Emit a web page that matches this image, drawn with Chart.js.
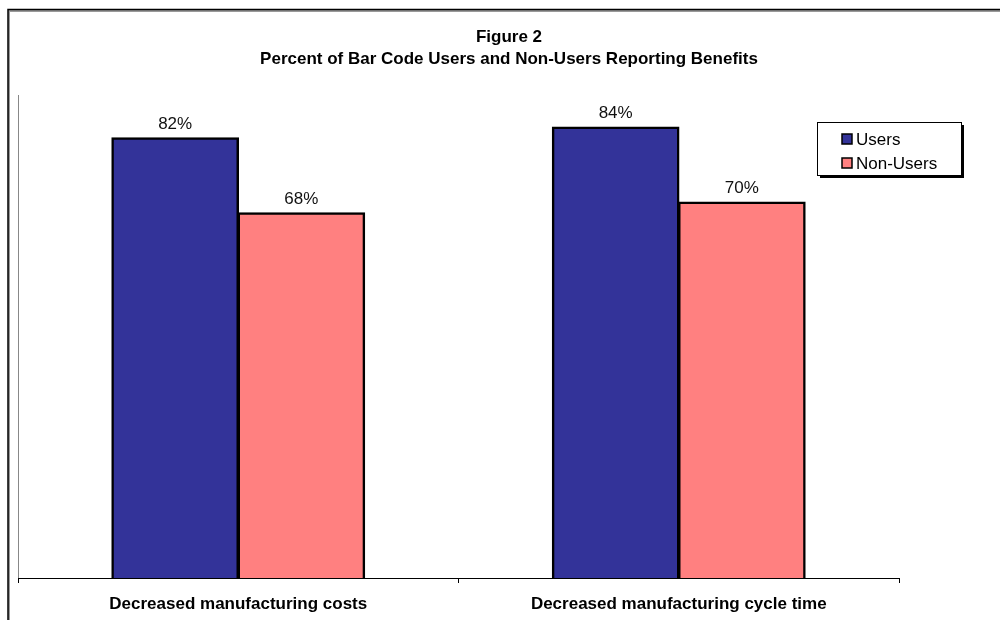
<!DOCTYPE html>
<html>
<head>
<meta charset="utf-8">
<script src="https://cdn.jsdelivr.net/npm/chart.js@4/dist/chart.umd.min.js"></script>
<style>
  body { margin: 0; background: #fff; }
  canvas { display: block; }
</style>
</head>
<body>
<canvas id="chart" width="1000" height="620"></canvas>
<script>
// values
const categories = ["Decreased manufacturing costs", "Decreased manufacturing cycle time"];
const seriesNames = ["Users", "Non-Users"];
const usersValues = [82, 84];
const nonUsersValues = [68, 70];
const seriesColors = ["#333399", "#FF8080"];
const titleLines = ["Figure 2", "Percent of Bar Code Users and Non-Users Reporting Benefits"];

const FONT = "'Liberation Sans', Arial, sans-serif";

// outer frame, title, data labels and the boxed legend
const decorations = {
    id: "decorations",
    beforeDraw(chart){
        const ctx = chart.ctx;
        ctx.save();
        ctx.fillStyle = "#fff";
        ctx.fillRect(0, 0, chart.width, chart.height);
        ctx.strokeStyle = "#999";
        ctx.lineWidth = 2;
        ctx.beginPath();
        ctx.moveTo(9, chart.height + 5);
        ctx.lineTo(9, 11);
        ctx.lineTo(chart.width + 5, 11);
        ctx.stroke();
        ctx.strokeStyle = "#000";
        ctx.lineWidth = 1.5;
        ctx.beginPath();
        ctx.moveTo(8, chart.height + 5);
        ctx.lineTo(8, 9.5);
        ctx.lineTo(chart.width + 5, 9.5);
        ctx.stroke();
        ctx.restore();
    },
    afterDraw(chart){
        const ctx = chart.ctx;
        ctx.save();
        // title
        ctx.fillStyle = "#000";
        ctx.textAlign = "center";
        ctx.textBaseline = "middle";
        ctx.font = "bold 17px " + FONT;
        ctx.fillText(titleLines[0], 509, 37);
        ctx.fillText(titleLines[1], 509, 59);
        // value labels
        ctx.font = "17px " + FONT;
        ctx.fillStyle = "#111";
        ctx.textBaseline = "alphabetic";
        chart.data.datasets.forEach((ds, i) => {
            chart.getDatasetMeta(i).data.forEach((bar, j) => {
                ctx.fillText(ds.data[j] + "%", bar.x, bar.y - 9);
            });
        });
        // legend box with shadow
        const lx = 817, ly = 122, lw = 144, lh = 53;
        ctx.fillStyle = "#000";
        ctx.fillRect(lx + 3, ly + 3, lw, lh);
        ctx.fillStyle = "#fff";
        ctx.fillRect(lx, ly, lw, lh);
        ctx.strokeStyle = "#000";
        ctx.lineWidth = 1;
        ctx.strokeRect(lx + 0.5, ly + 0.5, lw, lh);
        ctx.font = "17px " + FONT;
        ctx.textAlign = "left";
        ctx.textBaseline = "middle";
        chart.data.datasets.forEach((ds, i) => {
            const y = 139 + i * 24;
            ctx.fillStyle = ds.backgroundColor;
            ctx.fillRect(842, y - 5, 10, 10);
            ctx.lineWidth = 1.5;
            ctx.strokeRect(842, y - 5, 10, 10);
            ctx.fillStyle = "#000";
            ctx.fillText(ds.label, 856, y + 1);
        });
        ctx.restore();
    }
};

new Chart(document.getElementById("chart"), {
    type: "bar",
    data: {
        labels: categories,
        datasets: [
            {
                label: seriesNames[0], data: usersValues, backgroundColor: seriesColors[0],
                borderColor: "#000", borderWidth: 2.5, borderSkipped: "bottom", inflateAmount: 0.75
            },
            {
                label: seriesNames[1], data: nonUsersValues, backgroundColor: seriesColors[1],
                borderColor: "#000", borderWidth: 2.5, borderSkipped: "bottom", inflateAmount: 0.75
            }
        ]
    },
    options: {
        responsive: false,
        animation: false,
        layout: { padding: { left: 18, right: 101, top: 95, bottom: 0 } },
        datasets: {
            bar: { categoryPercentage: 0.573, barPercentage: 1 }
        },
        plugins: {
            legend: { display: false },
            title: { display: false },
            tooltip: { enabled: false }
        },
        scales: {
            y: {
                min: 0,
                max: 90,
                ticks: { display: false },
                grid: { display: false },
                border: { display: true, color: "#888", width: 1 },
                afterFit(scale){ scale.width = 0; }
            },
            x: {
                grid: {
                    display: true,
                    drawOnChartArea: false,
                    drawTicks: true,
                    tickLength: 5,
                    color: "#000"
                },
                border: { display: true, color: "#000", width: 1 },
                ticks: {
                    color: "#000",
                    padding: 11,
                    font: { family: FONT, size: 17, weight: "bold" }
                },
                afterFit(scale){ scale.height = 42; }
            }
        }
    },
    plugins: [decorations]
});
</script>
</body>
</html>
